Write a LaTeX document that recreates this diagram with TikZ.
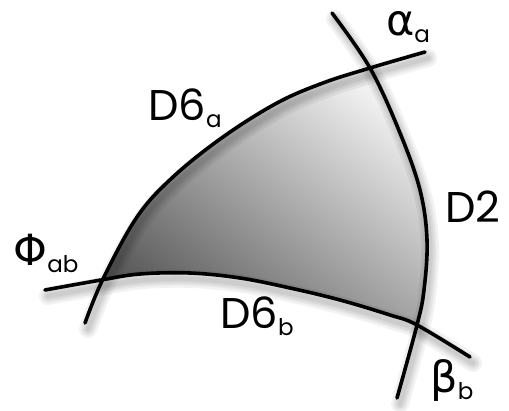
\documentclass[tikz,border=0pt]{standalone}
\usepackage{fontspec}
\setmainfont{Poppins}
\newfontfamily\grk{DejaVu Sans}
\newcommand{\mainsz}{\fontsize{43}{50}\selectfont}
\newcommand{\subsz}{\fontsize{23}{26}\selectfont}
\newcommand{\lblsub}[2]{#1\raisebox{-7pt}{\subsz #2}}
\begin{document}
\begin{tikzpicture}[x=1pt,y=-1pt,
  curve/.style={line width=3.6pt, black, line cap=round, line join=round},
  shadowline/.style={black, opacity=0.05, line cap=round, shift={(3,6)}},
  lbl/.style={inner sep=0pt, font=\mainsz}]
\useasboundingbox[fill=white] (0,0) rectangle (509,410);
\def\curveA{plot[smooth,tension=0.6] coordinates {(85,323) (103,279) (137,217) (173,177) (223,137) (277,103) (323,83) (370,68) (425,52)}}
\def\curveB{plot[smooth,tension=0.6] coordinates {(332,13) (370,68) (400,133) (420,190) (427,240) (424,290) (417,325) (397,398)}}
\def\curveC{plot[smooth,tension=0.6] coordinates {(45,290) (101,280) (140,274) (190,273) (240,278) (290,288) (340,300) (390,315) (417,325) (470,357)}}
\coordinate (A) at (102,279);
\coordinate (B) at (370,68);
\coordinate (C) at (417,325);
% gradient region
\shade[left color=black!64, right color=black!6, shading angle=142]
  plot[smooth,tension=0.6] coordinates {(A) (137,217) (173,177) (223,137) (277,103) (323,83) (B)}
  -- plot[smooth,tension=0.6] coordinates {(B) (400,133) (420,190) (427,240) (424,290) (C)}
  -- plot[smooth,tension=0.6] coordinates {(C) (390,315) (340,300) (290,288) (240,278) (190,273) (140,274) (A)} -- cycle;
% soft shadows
\foreach \w in {18,13,9,5}{
  \draw[shadowline, line width=\w pt] \curveA;
  \draw[shadowline, line width=\w pt] \curveB;
  \draw[shadowline, line width=\w pt] \curveC;
}
% curves
\draw[curve] \curveA;
\draw[curve] \curveB;
\draw[curve] \curveC;
% labels
\node[lbl] (alpha) at (408,27) {\lblsub{{\grk α}}{a}};
\node[lbl] (d6a) at (185,108) {\lblsub{D6}{a}};
\node[lbl] (d2) at (473,207) {D2};
\node[lbl] (phi) at (46,253) {\lblsub{{\grk Φ}}{ab}};
\node[lbl] (d6b) at (257,316) {\lblsub{D6}{b}};
\node[lbl] (beta) at (452,380) {\lblsub{{\grk β}}{b}};
\end{tikzpicture}
\end{document}
